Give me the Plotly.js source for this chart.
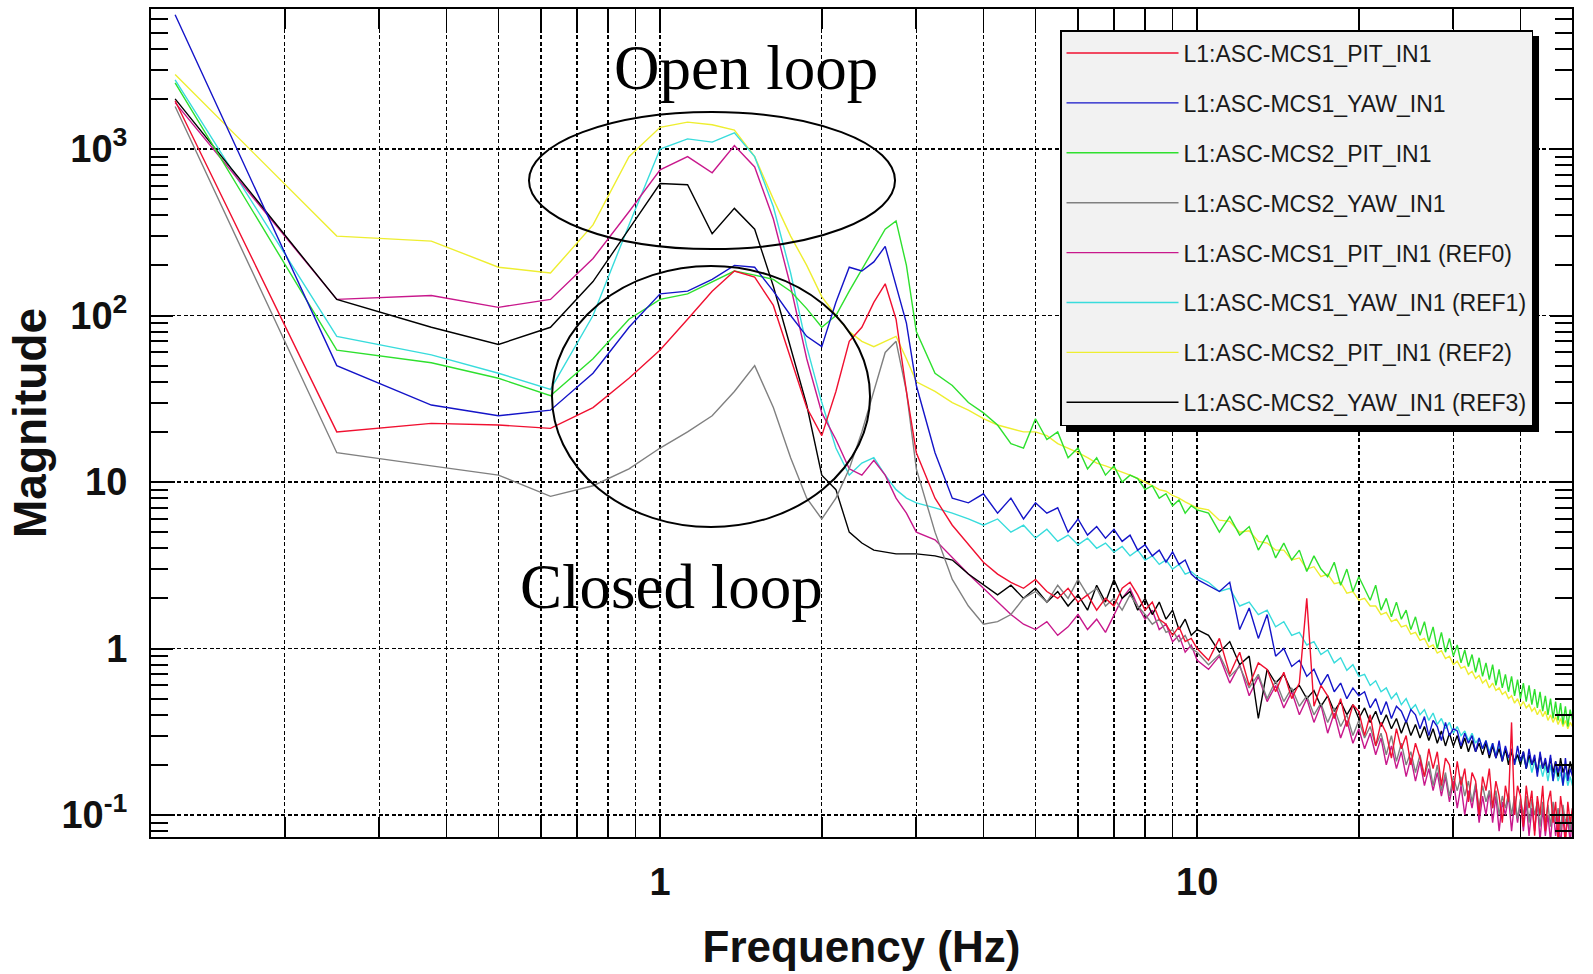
<!DOCTYPE html>
<html><head><meta charset="utf-8">
<script src="https://cdn.plot.ly/plotly-3.0.1.min.js"></script>
<style>html,body{margin:0;padding:0;background:#fff}</style>
</head><body><div id="chart" style="width:1593px;height:974px"></div>
<script>
const freq = [0.125,0.25,0.375,0.5,0.625,0.75,0.875,1,1.125,1.25,1.375,1.5,1.625,1.75,1.875,2,2.125,2.25,2.375,2.5,2.625,2.75,2.875,3,
3.25,3.5,3.75,4,4.25,4.5,4.75,5,5.25,5.5,5.75,6,6.25,6.5,6.75,7,7.25,7.5,7.75,8,8.25,8.5,8.75,9,9.25,9.5,9.75,10,
10.5,11,11.5,12,12.5,13,13.5,14,14.5,15,15.5,16,16.5,17,17.5,18,18.5,19,19.5,20,20.5,21,21.5,22,22.5,23,23.5,24,24.5,25,
25.5,26,26.5,27,27.5,28,28.5,29,29.5,30,30.5,31,31.5,32,32.5,33,33.5,34,34.5,35,35.5,36,36.5,37,37.5,38,38.5,39,39.5,40,
40.5,41,41.5,42,42.5,43,43.5,44,44.5,45,45.5,46,46.5,47,47.5,48,48.5,49,49.5,50];

const mcs1Pit = [1950,20,22.5,22,21,28,42,62,95,140,185,170,115,55,28,19,35,70,85,120,155,95,35,15,
8,5.5,4.2,3.3,2.8,2.5,2.3,2.6,2.2,2.0,2.3,1.9,2.1,1.7,2.0,1.8,2.3,2.5,2.1,1.7,1.9,1.5,1.4,1.2,1.35,1.1,1.15,1.0,
0.85,1.15,0.7,0.95,0.6,0.82,0.75,0.55,0.72,0.5, 0.62,2.0,0.45,0.6,0.52,0.38,0.5,0.34,0.46,0.42,
0.3,0.4,0.26,0.36,0.31,0.22,0.33,0.25,0.3,0.2, 0.27,0.22,0.17,0.25,0.19,0.24,0.15,0.22,0.2,0.14,
0.21,0.15,0.19,0.12,0.18,0.16,0.1,0.17,0.14,0.19, 0.11,0.16,0.13,0.09,0.15,0.12,0.36,0.1,0.15,0.13,
0.085,0.15,0.11,0.14,0.075,0.13,0.1,0.15,0.08,0.12, 0.14,0.09,0.12,0.07,0.13,0.1,0.065,0.12,0.09,0.11];

const mcs1Yaw = [6400,50,29,25,27,45,85,135,140,165,200,195,140,100,75,65,120,195,185,210,260,150,90,38,
15,8,7.5,8.5,6.5,8,6,7.5,6.5,7,5,6,4.8,5.4,4.6,5.2,4.4,4.8,3.9,4.2,3.6,3.9,3.3,3.8,3.2,3.4,2.8,2.6,
2.4,2.2,2.5,1.3,1.75,1.15,1.6,0.9,1.0,0.78, 0.85,0.68,0.75,0.6,0.7,0.55,0.62,0.5,0.58,0.52,
0.55,0.44,0.5,0.4,0.48,0.38,0.45,0.42,0.36,0.43, 0.4,0.33,0.39,0.3,0.37,0.34,0.28,0.36,0.3,0.33,
0.32,0.26,0.31,0.27,0.3,0.24,0.29,0.25,0.28,0.23, 0.27,0.22,0.28,0.21,0.26,0.22,0.25,0.2,0.26,0.21,
0.24,0.19,0.25,0.2,0.23,0.17,0.24,0.19,0.22,0.18, 0.23,0.16,0.21,0.18,0.2,0.15,0.22,0.16,0.19,0.17];

const mcs2Pit = [2500,62,52,42,33,55,95,125,135,160,185,175,165,140,110,85,100,140,190,250,330,370,200,80,
45,38,30,26,22,17,16,24,18,20,14,16,12,14,11,12.5,10,11,10.5,9,9.5,8,8.5,7.2,7.8,6.5,7.2,6.8,
6.5,5.0,6.2,4.8,5.4,3.9,4.8,3.5,4.3,3.4, 3.9,2.9,3.6,3.0,2.7,3.3,2.4,3.0,2.2,2.7,
2.3,1.95,2.4,1.7,2.0,1.55,1.9,1.5,1.7,1.3, 1.55,1.2,1.45,1.1,1.35,1.0,1.25,0.95,1.15,0.9,
1.05,0.82,0.98,0.78,0.92,0.72,0.88,0.68,0.82,0.65, 0.8,0.6,0.75,0.58,0.7,0.55,0.68,0.52,0.65,0.5,
0.62,0.48,0.6,0.46,0.57,0.44,0.55,0.42,0.52,0.4, 0.5,0.38,0.48,0.37,0.47,0.35,0.45,0.34,0.43,0.37];

const mcs2Yaw = [1800,15,12.5,11,8.2,9.5,12,16,20,25,35,50,28,14,8,6,8,12,20,35,60,70,35,12,
5,2.6,1.8,1.4,1.45,1.6,2.0,2.2,1.9,2.4,2.0,2.6,2.1,2.3,1.8,2.0,1.7,2.1,1.8,1.6,1.4,1.5,1.25,1.3,1.1,1.2,1.0,0.95,
0.8,0.92,0.68,0.78,0.58,0.7,0.5,0.64,0.48,0.58, 0.45,0.52,0.4,0.47,0.36,0.44,0.34,0.4,0.3,0.37,
0.29,0.34,0.26,0.31,0.23,0.3,0.21,0.27,0.2,0.24, 0.18,0.23,0.17,0.21,0.15,0.2,0.14,0.18,0.13,0.17,
0.14,0.17,0.13,0.16,0.12,0.155,0.11,0.15,0.12,0.14, 0.11,0.14,0.1,0.13,0.11,0.135,0.1,0.13,0.095,0.125,
0.1,0.13,0.09,0.125,0.1,0.12,0.085,0.12,0.09,0.115, 0.085,0.12,0.09,0.11,0.08,0.115,0.09,0.1,0.08,0.11];

const ref0Mcs1Pit = [1900,125,132,112,125,220,420,750,900,720,1050,780,380,150,55,26,18,12,11,13.5,11,8,6.5,5,
4.5,3.5,2.8,2.3,1.9,1.6,1.4,1.3,1.45,1.2,1.35,1.6,1.3,1.5,1.25,1.6,2.0,2.3,1.8,1.5,1.7,1.3,1.4,1.1,1.2,0.95,1.05,0.85,
0.75,0.9,0.62,0.8,0.52,0.68,0.48,0.6,0.44,0.55, 0.4,0.5,0.36,0.46,0.31,0.41,0.29,0.37,0.27,0.33,
0.25,0.31,0.23,0.29,0.2,0.26,0.19,0.24,0.17,0.22, 0.16,0.21,0.15,0.19,0.14,0.18,0.13,0.17,0.12,0.16,
0.11,0.15,0.1,0.14,0.11,0.15,0.09,0.13,0.1,0.14, 0.09,0.13,0.08,0.12,0.1,0.13,0.08,0.12,0.09,0.12,
0.08,0.12,0.075,0.11,0.08,0.12,0.07,0.11,0.075,0.1, 0.07,0.11,0.075,0.1,0.065,0.105,0.075,0.095,0.068,0.1];

const ref1Mcs1Yaw = [2600,75,58,45,36,100,350,1000,1150,1100,1250,900,450,180,65,30,16,11,13,14,11,9,8,7.5,
7,6.5,6,5.5,6,5,5.5,4.6,5.2,4.4,4.8,4.2,4.6,4.0,4.3,3.8,4.1,3.6,3.9,3.4,3.6,3.2,3.4,3.0,3.2,2.8,2.9,2.7,
2.5,2.2,2.3,1.8,1.9,1.6,1.7,1.35,1.45,1.2, 1.25,1.05,1.1,0.92,0.98,0.82,0.88,0.74,0.8,0.68,
0.7,0.6,0.64,0.55,0.58,0.5,0.54,0.46,0.5,0.43, 0.46,0.4,0.43,0.37,0.41,0.35,0.38,0.33,0.36,0.31,
0.34,0.3,0.32,0.28,0.31,0.27,0.29,0.25,0.28,0.24, 0.27,0.23,0.26,0.22,0.25,0.21,0.24,0.2,0.23,0.2,
0.23,0.19,0.22,0.18,0.21,0.18,0.2,0.17,0.2,0.16, 0.2,0.16,0.19,0.16,0.18,0.15,0.18,0.15,0.17,0.15];

const ref2Mcs2Pit = [2800,300,280,195,180,350,900,1350,1450,1400,1300,900,500,300,200,130,100,80,70,65,70,75,55,40,
35,30,27,24,22,21,20,20,19,17,16,15,14,13,12.5,12,11.5,11,10.5,10,9.5,9,8.8,8.3,8,7.6,7.3,7,
6.8,5.9,5.8,5.0,5.1,4.4,4.3,3.9,3.9,3.4, 3.5,3.0,3.1,2.7,2.8,2.45,2.5,2.15,2.2,1.95,
2.0,1.8,1.8,1.6,1.65,1.45,1.5,1.35,1.38,1.22, 1.25,1.12,1.15,1.02,1.05,0.94,0.97,0.87,0.9,0.8,
0.84,0.76,0.78,0.7,0.73,0.66,0.69,0.62,0.65,0.58, 0.62,0.56,0.58,0.53,0.55,0.5,0.52,0.47,0.5,0.45,
0.48,0.44,0.46,0.42,0.44,0.4,0.43,0.39,0.42,0.37, 0.4,0.36,0.39,0.35,0.38,0.34,0.37,0.33,0.36,0.34];

const ref3Mcs2Yaw = [2000,125,85,67,85,160,330,620,610,310,440,330,150,65,29,11,9,5,4.3,3.9,3.8,3.7,3.7,3.7,
3.6,3.4,2.8,2.4,2.1,2.4,2.0,2.3,1.9,2.2,1.8,2.1,1.7,2.4,1.9,2.6,2.0,2.2,1.7,2.0,1.6,1.9,1.5,1.7,1.3,1.5,1.2,1.3,
1.2,0.95,1.1,0.8,0.9,0.38,0.75,0.62,0.7,0.55, 0.6,0.5,0.56,0.45,0.52,0.42,0.48,0.4,0.46,0.38,
0.44,0.36,0.42,0.34,0.4,0.33,0.38,0.31,0.37,0.3, 0.35,0.29,0.34,0.28,0.33,0.27,0.32,0.26,0.31,0.26,
0.3,0.25,0.29,0.24,0.28,0.24,0.27,0.23,0.27,0.22, 0.26,0.22,0.25,0.21,0.25,0.2,0.24,0.21,0.23,0.2,
0.24,0.19,0.23,0.2,0.22,0.18,0.23,0.19,0.21,0.18, 0.22,0.18,0.21,0.17,0.22,0.18,0.2,0.17,0.21,0.18];

const seriesNames = ['L1:ASC-MCS1_PIT_IN1','L1:ASC-MCS1_YAW_IN1','L1:ASC-MCS2_PIT_IN1','L1:ASC-MCS2_YAW_IN1',
  'L1:ASC-MCS1_PIT_IN1 (REF0)','L1:ASC-MCS1_YAW_IN1 (REF1)','L1:ASC-MCS2_PIT_IN1 (REF2)','L1:ASC-MCS2_YAW_IN1 (REF3)'];
const seriesValues = [mcs1Pit, mcs1Yaw, mcs2Pit, mcs2Yaw, ref0Mcs1Pit, ref1Mcs1Yaw, ref2Mcs2Pit, ref3Mcs2Yaw];
const seriesColors = ['#f01030','#1414c8','#2ee02e','#808080','#c8188c','#38dcdc','#eeee30','#000000'];
const drawOrder = [6,5,4,7,3,2,1,0];

const xTickVals = [1,10];
const xTickText = ['1','10'];
const xMinorVals = [0.2,0.3,0.4,0.5,0.6,0.7,0.8,0.9,2,3,4,5,6,7,8,9,20,30,40,50];
const yTickVals = [0.1,1,10,100,1000];
const yTickText = ['10<sup>-1</sup>','1','10','10<sup>2</sup>','10<sup>3</sup>'];
const yMinorVals = [0.08,0.09,0.2,0.3,0.4,0.5,0.6,0.7,0.8,0.9,2,3,4,5,6,7,8,9,20,30,40,50,60,70,80,90,
  200,300,400,500,600,700,800,900,2000,3000,4000,5000,6000];

const traces = drawOrder.map(i => ({
  x: freq, y: seriesValues[i], type: 'scatter', mode: 'lines',
  name: seriesNames[i], legendgroup: 'g' + i, legendrank: i + 1,
  line: {color: seriesColors[i], width: 1.4}
}));

const tickFont = {family: 'Liberation Sans, Arial, sans-serif', size: 38, color: '#111', weight: 'bold'};
const xTitleFont = {family: 'Liberation Sans, Arial, sans-serif', size: 44, color: '#111', weight: 'bold'};
const yTitleFont = {family: 'Liberation Sans, Arial, sans-serif', size: 46, color: '#111', weight: 'bold'};
const gridDash = '4px,2.5px';

const margin = {l: 151, r: 21, t: 9, b: 137};
const plotW = 1593 - margin.l - margin.r, plotH = 974 - margin.t - margin.b;
const legendPos = {x: 0.6397, y: 0.9746};

const layout = {
  width: 1593, height: 974,
  margin: margin,
  paper_bgcolor: '#fff', plot_bgcolor: '#fff',
  showlegend: true,
  xaxis: {
    type: 'log', range: [-0.948, 1.698], autorange: false,
    showline: true, linecolor: '#000', linewidth: 2, mirror: 'allticks',
    ticks: 'inside', ticklen: 20, tickwidth: 1.8, tickcolor: '#000',
    tickmode: 'array', tickvals: xTickVals, ticktext: xTickText,
    showgrid: true, gridcolor: '#000', gridwidth: 1.4, griddash: gridDash,
    minor: {tickmode: 'array', tickvals: xMinorVals, ticks: 'inside', ticklen: 20, tickwidth: 1.8, tickcolor: '#000',
            showgrid: true, gridcolor: '#000', gridwidth: 1.4, griddash: gridDash},
    zeroline: false, tickfont: tickFont, ticklabelstandoff: 10,
    title: {text: 'Frequency (Hz)', font: xTitleFont, standoff: 30}
  },
  yaxis: {
    type: 'log', range: [-1.132, 3.841], autorange: false,
    showline: true, linecolor: '#000', linewidth: 2, mirror: 'allticks',
    ticks: 'inside', ticklen: 22, tickwidth: 2, tickcolor: '#000',
    tickmode: 'array', tickvals: yTickVals, ticktext: yTickText,
    showgrid: true, gridcolor: '#000', gridwidth: 1.4, griddash: gridDash,
    minor: {tickmode: 'array', tickvals: yMinorVals, ticks: 'inside', ticklen: 17, tickwidth: 2, tickcolor: '#000', showgrid: false},
    zeroline: false, tickfont: tickFont, ticklabelstandoff: 14,
    title: {text: 'Magnitude', font: yTitleFont, standoff: 0}
  },
  legend: {
    x: legendPos.x, y: legendPos.y, xanchor: 'left', yanchor: 'top',
    bgcolor: '#f2f2f2', bordercolor: '#000', borderwidth: 1.5,
    font: {family: 'Liberation Sans, Arial, sans-serif', size: 23, color: '#1a1a1a'},
    traceorder: 'grouped', tracegroupgap: 17, itemwidth: 112
  },
  shapes: [
    {type: 'circle', xref: 'paper', yref: 'paper', x0: 0.266, x1: 0.5236, y0: 0.710, y1: 0.8756, line: {color: '#000', width: 2}},
    {type: 'circle', xref: 'paper', yref: 'paper', x0: 0.2822, x1: 0.506, y0: 0.3744, y1: 0.6896, line: {color: '#000', width: 2}}
  ],
  annotations: [
    {text: 'Open loop', xref: 'paper', yref: 'paper', x: 0.4187, y: 0.9287, xanchor: 'center', yanchor: 'middle', showarrow: false,
     font: {family: 'Liberation Serif, Times New Roman, serif', size: 63, color: '#000'}},
    {text: 'Closed loop', xref: 'paper', yref: 'paper', x: 0.3666, y: 0.302, xanchor: 'center', yanchor: 'middle', showarrow: false,
     font: {family: 'Liberation Serif, Times New Roman, serif', size: 63, color: '#000'}}
  ]
};

Plotly.newPlot('chart', traces, layout, {displayModeBar: false, staticPlot: true}).then(gd => {
  const lg = gd._fullLayout.legend;
  const w = (lg && lg._width) || 472, h = (lg && lg._height) || 400;
  const left = margin.l + legendPos.x * plotW, top = margin.t + (1 - legendPos.y) * plotH;
  const off = 6;
  const shadow = {type: 'rect', xref: 'paper', yref: 'paper', layer: 'above',
    x0: (left + off - margin.l) / plotW, x1: (left + w + off - margin.l) / plotW,
    y0: 1 - (top + h + off - margin.t) / plotH, y1: 1 - (top + off - margin.t) / plotH,
    fillcolor: '#000', line: {width: 0}};
  return Plotly.relayout(gd, {shapes: layout.shapes.concat([shadow])});
});
</script>
</body></html>
